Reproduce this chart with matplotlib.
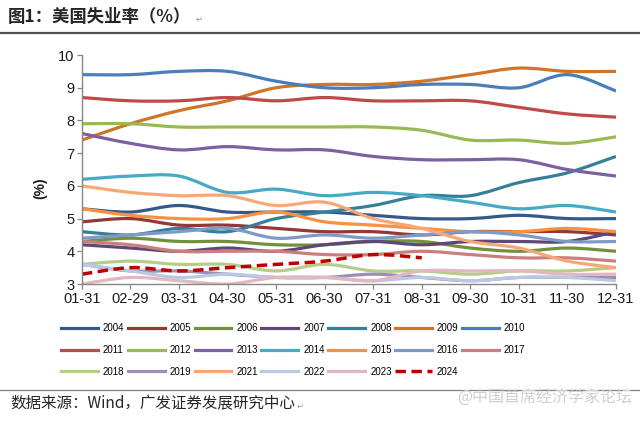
import numpy as np
import matplotlib
matplotlib.use("Agg")
import matplotlib.pyplot as plt
from matplotlib.path import Path
from matplotlib.patches import PathPatch
from matplotlib.lines import Line2D

plt.rcParams["font.family"] = ["Liberation Sans", "Noto Sans CJK SC", "DejaVu Sans"]

# ─── Dados ───────────────────────────────────────────────────────────────────
MONTHS = ["01-31", "02-29", "03-31", "04-30", "05-31", "06-30",
          "07-31", "08-31", "09-30", "10-31", "11-30", "12-31"]

YEARS = ["2004", "2005", "2006", "2007", "2008", "2009", "2010",
         "2011", "2012", "2013", "2014", "2015", "2016", "2017",
         "2018", "2019", "2021", "2022", "2023", "2024"]

U2004 = [5.3, 5.2, 5.4, 5.2, 5.2, 5.2, 5.1, 5.0, 5.0, 5.1, 5.0, 5.0]
U2005 = [4.9, 5.0, 4.8, 4.8, 4.7, 4.6, 4.6, 4.5, 4.6, 4.6, 4.6, 4.5]
U2006 = [4.3, 4.4, 4.3, 4.3, 4.2, 4.2, 4.3, 4.3, 4.1, 4.0, 4.1, 4.0]
U2007 = [4.2, 4.1, 4.0, 4.1, 4.0, 4.2, 4.3, 4.2, 4.3, 4.3, 4.3, 4.6]
U2008 = [4.6, 4.5, 4.7, 4.6, 5.0, 5.2, 5.4, 5.7, 5.7, 6.1, 6.4, 6.9]
U2009 = [7.4, 7.9, 8.3, 8.6, 9.0, 9.1, 9.1, 9.2, 9.4, 9.6, 9.5, 9.5]
U2010 = [9.4, 9.4, 9.5, 9.5, 9.2, 9.0, 9.0, 9.1, 9.1, 9.0, 9.4, 8.9]
U2011 = [8.7, 8.6, 8.6, 8.7, 8.6, 8.7, 8.6, 8.6, 8.6, 8.4, 8.2, 8.1]
U2012 = [7.9, 7.9, 7.8, 7.8, 7.8, 7.8, 7.8, 7.7, 7.4, 7.4, 7.3, 7.5]
U2013 = [7.6, 7.3, 7.1, 7.2, 7.1, 7.1, 6.9, 6.8, 6.8, 6.8, 6.5, 6.3]
U2014 = [6.2, 6.3, 6.3, 5.8, 5.9, 5.7, 5.8, 5.7, 5.5, 5.3, 5.4, 5.2]
U2015 = [5.3, 5.1, 5.0, 5.0, 5.2, 4.9, 4.8, 4.7, 4.6, 4.6, 4.7, 4.6]
U2016 = [4.4, 4.5, 4.6, 4.7, 4.4, 4.5, 4.4, 4.5, 4.6, 4.5, 4.3, 4.3]
U2017 = [4.3, 4.2, 4.0, 4.0, 4.0, 3.9, 3.9, 4.0, 3.9, 3.8, 3.8, 3.7]
U2018 = [3.6, 3.7, 3.6, 3.6, 3.4, 3.6, 3.4, 3.4, 3.3, 3.4, 3.4, 3.5]
U2019 = [3.6, 3.4, 3.4, 3.3, 3.2, 3.2, 3.3, 3.2, 3.1, 3.2, 3.2, 3.2]
U2021 = [6.0, 5.8, 5.7, 5.7, 5.4, 5.5, 5.0, 4.7, 4.3, 4.1, 3.7, 3.5]
U2022 = [3.6, 3.4, 3.2, 3.3, 3.2, 3.2, 3.1, 3.2, 3.1, 3.2, 3.2, 3.1]
U2023 = [3.0, 3.2, 3.1, 3.0, 3.2, 3.2, 3.1, 3.4, 3.4, 3.4, 3.3, 3.3]
U2024 = [3.3, 3.5, 3.4, 3.5, 3.6, 3.7, 3.9, 3.8]

VALUES = [U2004, U2005, U2006, U2007, U2008, U2009, U2010,
          U2011, U2012, U2013, U2014, U2015, U2016, U2017,
          U2018, U2019, U2021, U2022, U2023, U2024]

YTICKS = [3, 4, 5, 6, 7, 8, 9, 10]

# ─── Estilo ──────────────────────────────────────────────────────────────────
COLORS = ["#36598A", "#933836", "#72903C", "#5D4878", "#358096", "#D07528", "#4A7EBB",
          "#BE4B48", "#98B954", "#7D60A0", "#46AAC5", "#F69240", "#7E9BC8", "#C97F7E",
          "#B5CD88", "#9B8DB8", "#F8A878", "#B9C9E3", "#E3B7C0", "#C00000"]
AXIS = "#868686"
NCOL = 7


def smooth_path(x, y):
    """Curva suavizada (Bezier tipo Excel) passando pelos pontos."""
    pts = np.column_stack([x, y]).astype(float)
    n = len(pts)
    verts, codes = [pts[0]], [Path.MOVETO]
    for i in range(n - 1):
        p0 = pts[max(i - 1, 0)]
        p1, p2 = pts[i], pts[i + 1]
        p3 = pts[min(i + 2, n - 1)]
        verts += [p1 + (p2 - p0) / 6, p2 - (p3 - p1) / 6, p2]
        codes += [Path.CURVE4] * 3
    return Path(verts, codes)


fig = plt.figure(figsize=(6.4, 4.21), dpi=100, facecolor="white")
ax = fig.add_axes([0.128, 0.3254, 0.8345, 0.5439])

handles = []
for year, vals, color in zip(YEARS, VALUES, COLORS):
    dashed = year == "2024"
    ls = (0, (3, 1.6)) if dashed else "-"
    lw = 2.5 if dashed else 2.3
    x = np.arange(len(vals))
    patch = PathPatch(smooth_path(x, vals), facecolor="none", edgecolor=color,
                      linewidth=lw, linestyle=ls, capstyle="butt", joinstyle="round")
    ax.add_patch(patch)
    handles.append(Line2D([0], [0], color=color, lw=lw, ls=ls, label=year))

ax.set_xlim(0, 11)
ax.set_ylim(3, 10)
ax.set_xticks(range(len(MONTHS)))
ax.set_xticklabels(MONTHS)
ax.set_yticks(YTICKS)
ax.tick_params(axis="both", direction="out", length=3.5, width=0.9, color=AXIS,
               labelsize=10.5, labelcolor="#1a1a1a", pad=2)
ax.spines[["top", "right"]].set_visible(False)
ax.spines[["left", "bottom"]].set_color(AXIS)
ax.spines[["left", "bottom"]].set_linewidth(1.0)

fig.text(40 / 640, 1 - 188 / 421, "(%)", rotation=90, ha="center", va="center",
         fontsize=10, fontweight="bold", color="#1a1a1a")

# legenda preenchida por linhas (matplotlib preenche por colunas)
nrow = -(-len(handles) // NCOL)
ordered = [handles[r * NCOL + c] for c in range(NCOL) for r in range(nrow)
           if r * NCOL + c < len(handles)]
fig.legend(handles=ordered, ncol=NCOL, loc="upper left",
           bbox_to_anchor=(0.095, 0.232), frameon=False, fontsize=7.0,
           handlelength=3.8, handletextpad=0.5, columnspacing=0.36,
           labelspacing=1.2, borderaxespad=0, borderpad=0)

# título e rodapé
t = fig.text(8 / 640, 1 - 17 / 421, "图1：美国失业率（%）", ha="left", va="center",
             fontsize=12.5, fontweight="bold", color="#262626",
             family=["Noto Sans CJK SC", "DejaVu Sans"])
ax.annotate("↵", xy=(1, 0.1), xycoords=t, xytext=(3, 0), textcoords="offset points",
            ha="left", va="bottom", fontsize=6, color="#999999",
            family=["DejaVu Sans"], annotation_clip=False)
fig.add_artist(Line2D([0, 1], [1 - 33 / 421] * 2, color="#505050", lw=1.6))
fig.add_artist(Line2D([0, 1], [1 - 390 / 421] * 2, color="#808080", lw=0.9))

f = fig.text(10 / 640, 1 - 404 / 421, "数据来源：Wind，广发证券发展研究中心", ha="left",
             va="center", fontsize=11.2, color="#262626",
             family=["Noto Sans CJK SC", "DejaVu Sans"])
ax.annotate("↵", xy=(1, 0.1), xycoords=f, xytext=(1, 0), textcoords="offset points",
            ha="left", va="bottom", fontsize=6, color="#999999",
            family=["DejaVu Sans"], annotation_clip=False)
fig.text(632 / 640, 1 - 398 / 421, "@中国首席经济学家论坛", ha="right", va="center",
         fontsize=11.5, color="#cfcfcf", family=["Noto Sans CJK SC", "DejaVu Sans"])

fig.savefig("out.png", dpi=100, facecolor="white")
